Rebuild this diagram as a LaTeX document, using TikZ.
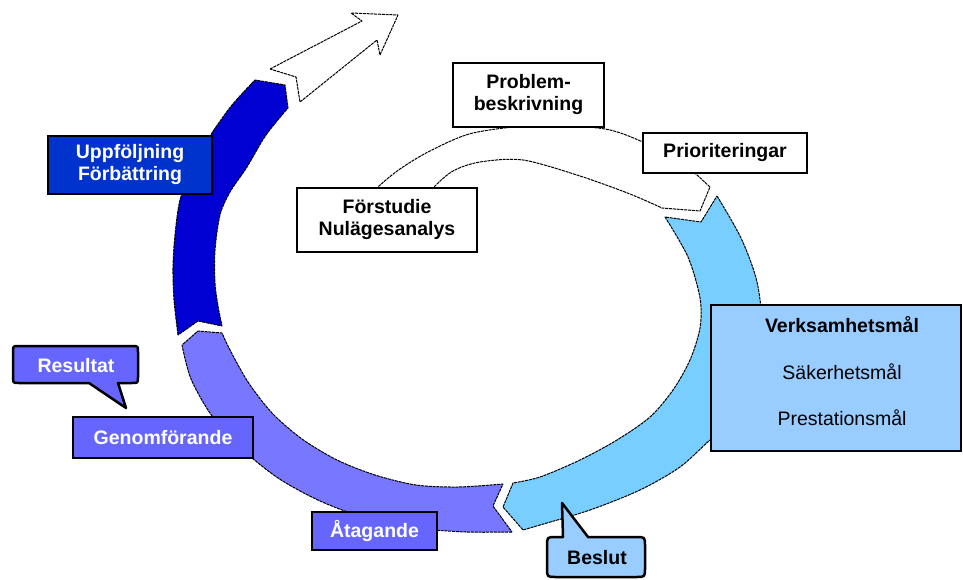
\documentclass[tikz,border=0pt]{standalone}
\usepackage{fontspec}
\setmainfont{Liberation Sans}
\definecolor{dkblue}{RGB}{0,0,210}
\definecolor{upbox}{RGB}{0,51,204}
\definecolor{purp}{RGB}{119,119,255}
\definecolor{purpbox}{RGB}{102,102,255}
\definecolor{ltblue}{RGB}{119,206,255}
\definecolor{skyb}{RGB}{153,204,255}
\begin{document}
\begin{tikzpicture}[x=1pt,y=-1pt,
  ringline/.style={draw=black, line width=1pt, dash pattern=on 3pt off 0.8pt, line join=round},
  boxline/.style={draw=black, line width=2.5pt},
  stepbox/.style={boxline, rectangle, inner sep=0pt, align=center, font=\bfseries\fontsize{19.5}{22}\selectfont},
  lbl/.style={font=\bfseries\fontsize{19.5}{22}\selectfont, align=center, inner sep=0pt},
  lblr/.style={font=\fontsize{19.5}{22}\selectfont, align=center, inner sep=0pt}]
\useasboundingbox (0,0) rectangle (963,580);

% light blue segment
\draw[ringline, fill=ltblue] plot[smooth] coordinates {(717,196) (741,238) (757,282) (762,330) (755,385) (735,420) (710,440) (680,467) (640,490) (590,510) (540,525) (523,530)}
  -- (503,507)
  -- plot[smooth] coordinates {(513,483) (540,477) (580,460) (617,440) (650,417) (673,390) (690,360) (700,328) (700,298) (688,257) (665,217)}
  -- (701,222) -- cycle;

% purple segment
\draw[ringline, fill=purp] plot[smooth] coordinates {(512,532) (466,532) (416,528) (366,518) (320,501) (278,478) (242,449) (212,416) (191,379) (182,345)}
  -- (198,331)
  -- plot[smooth] coordinates {(222,333) (230,350) (248,382) (272,413) (302,439) (337,460) (375,475) (416,485) (458,487) (503,484)}
  -- (493,506) -- cycle;

% dark blue segment
\draw[ringline, fill=dkblue] plot[smooth] coordinates {(178,335) (174,300) (173,267) (175,235) (180,200) (193,165) (212,133) (232,105) (255,80)}
  -- (285,85)
  -- plot[smooth] coordinates {(288,108) (266,135) (247,167) (230,192) (220,215) (215,250) (215,283) (218,306) (222,326)}
  -- (198,321) -- cycle;

% white top segment
\draw[ringline, fill=white] plot[smooth] coordinates {(365,205) (377,188) (400,169) (430,151) (473,133) (540,125) (605,129) (643,142) (675,158) (697,175)}
  -- (710,187) -- (700,211)
  -- plot[smooth] coordinates {(662,208) (630,194) (580,176) (523,160) (480,162) (453,171) (433,188) (420,205)}
  -- cycle;

% white outgoing arrow
\draw[ringline, fill=white] (270,69) -- (362,21) -- (351,13) -- (398,15) -- (380,55) -- (377,40) -- (300,102) -- (296,77) -- cycle;

% boxes
\node[stepbox, fill=white, minimum width=151pt, minimum height=64pt] (prob) at (528.5,95) {Problem-\\beskrivning};
\node[stepbox, fill=white, minimum width=164pt, minimum height=40pt] (prio) at (725,153) {Prioriteringar};
\node[stepbox, fill=white, minimum width=180pt, minimum height=64pt] (forst) at (387,220) {Förstudie\\Nulägesanalys};
\node[stepbox, fill=upbox, text=white, minimum width=164pt, minimum height=58pt] (uppf) at (130,165) {Uppföljning\\Förbättring};
\node[stepbox, fill=purpbox, text=white, minimum width=180pt, minimum height=41pt] (genom) at (163,437.5) {Genomförande};
\node[stepbox, fill=purpbox, text=white, minimum width=125pt, minimum height=38pt] (atag) at (374.5,531) {Åtagande};

\node[boxline, rectangle, fill=skyb, minimum width=250pt, minimum height=146pt, inner sep=0pt] (vmbox) at (836,378) {};
\node[lbl] (vm1) at (842,325) {Verksamhetsmål};
\node[lblr] (vm2) at (842,372) {Säkerhetsmål};
\node[lblr] (vm3) at (842,418) {Prestationsmål};

% Resultat callout
\draw[boxline, fill=purpbox, line join=round] (19,346) -- (132,346) .. controls (138,346) .. (138,352) -- (138,377) .. controls (138,383) .. (132,383) -- (118,383) -- (126,408) -- (89,383) -- (19,383) .. controls (13,383) .. (13,377) -- (13,352) .. controls (13,346) .. (19,346) -- cycle;
\node[lbl, text=white] (res) at (76,366) {Resultat};

% Beslut callout
\draw[boxline, fill=skyb, line join=round] (563,537) -- (562,503) -- (588,537) -- (636,537) .. controls (645,537) .. (645,546) -- (645,568) .. controls (645,577) .. (636,577) -- (556,577) .. controls (547,577) .. (547,568) -- (547,546) .. controls (547,537) .. (556,537) -- cycle;
\node[lbl] (bes) at (597,558) {Beslut};
\end{tikzpicture}
\end{document}
